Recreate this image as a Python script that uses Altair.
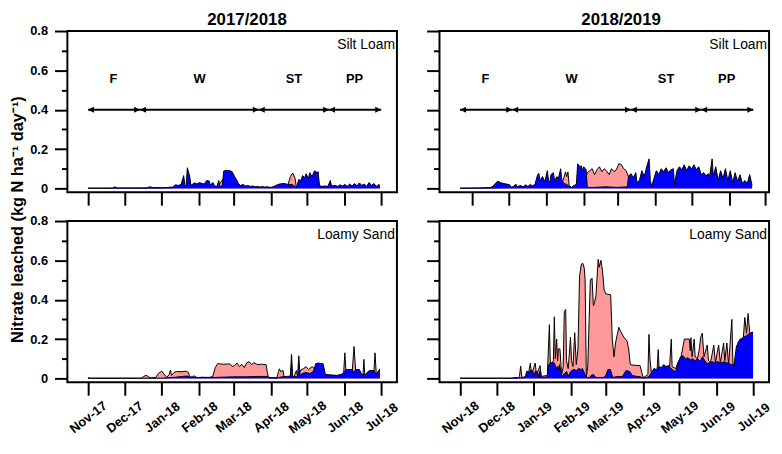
import altair as alt
import pandas as pd

DAY = 86400000


def ms(date):
    return int(pd.Timestamp(date, tz="UTC").value // 10**6)


# ---------------- data (days after 1 Nov, value in 0.001 kg N/ha/day) ----------------
SEASONS = ["2017/2018", "2018/2019"]
SEASON_START = {"2017/2018": "2017-11-01", "2018/2019": "2018-11-01"}
X_DOMAIN = {"2017/2018": ["2017-10-15", "2018-07-14"], "2018/2019": ["2018-10-15", "2019-07-14"]}
MONTH_TICKS = {
    "2017/2018": ["2017-11-01", "2017-12-01", "2018-01-01", "2018-02-01", "2018-03-01",
                  "2018-04-01", "2018-05-01", "2018-06-01", "2018-07-01"],
    "2018/2019": ["2018-11-01", "2018-12-01", "2019-01-01", "2019-02-01", "2019-03-01",
                  "2019-04-01", "2019-05-01", "2019-06-01", "2019-07-01"],
}
# the upper right panel of the original has its ticks drawn slightly to the right
TOP_RIGHT_TICKS = ["2018-11-11", "2018-12-11", "2019-01-11", "2019-02-11", "2019-03-11",
                   "2019-04-11", "2019-05-11", "2019-06-11", "2019-07-11"]
Y_TICKS = [0, 0.1, 0.2, 0.3, 0.4, 0.5, 0.6, 0.7, 0.8]

PHASE_NAMES = ["F", "W", "ST", "PP"]
PHASE_START = [0, 43, 141, 199]
PHASE_END = [43, 141, 199, 242]
PHASE_LABEL_DAY = [21, 92, 170, 220]
ARROW_LEVEL = 0.4
LABEL_LEVEL = 0.555

silt_1718_blue = [(0, 1), (20, 1), (22, 8), (24, 2), (48, 2), (51, 8), (54, 4), (60, 3), (70, 3), (72, 18), (75, 15),
                  (77, 22), (79, 65), (80, 15), (81, 10), (82, 105), (84, 60), (85, 12), (86, 20), (88, 28), (90, 22),
                  (92, 30), (94, 25), (96, 22), (98, 40), (100, 38), (101, 15), (103, 30), (104, 20), (106, 5),
                  (108, 40), (109, 5), (111, 20), (112, 88), (114, 92), (117, 90), (119, 85), (121, 60), (123, 40),
                  (124, 25), (126, 15), (128, 20), (130, 12), (132, 15), (134, 10), (136, 12), (138, 8), (140, 10),
                  (142, 6), (144, 10), (146, 6), (148, 9), (150, 5), (152, 5), (155, 15), (158, 22), (162, 25),
                  (165, 20), (168, 20), (170, 15), (172, 3), (174, 45), (176, 40), (177, 65), (179, 55), (180, 75),
                  (182, 50), (183, 80), (185, 60), (187, 90), (189, 80), (190, 85), (191, 15), (193, 10), (196, 12),
                  (198, 10), (200, 40), (201, 12), (204, 15), (206, 10), (208, 18), (210, 12), (212, 20), (214, 10),
                  (216, 22), (218, 12), (220, 25), (222, 12), (224, 28), (226, 15), (228, 22), (230, 10), (232, 30),
                  (234, 15), (236, 25), (238, 10), (240, 20), (241, 15)]
silt_1718_pink = [(0, 1), (60, 2), (72, 8), (80, 10), (84, 30), (86, 10), (92, 15), (100, 20), (106, 3), (112, 50),
                  (118, 60), (122, 30), (126, 8), (150, 4), (156, 10), (162, 18), (165, 18), (167, 60), (169, 78),
                  (171, 50), (172, 3), (174, 30), (180, 40), (190, 50), (191, 8), (200, 10), (241, 8)]

silt_1819_blue = [(0, 1), (15, 2), (25, 4), (27, 10), (29, 25), (31, 36), (34, 28), (38, 22), (41, 18), (42, 5),
                  (44, 10), (46, 22), (47, 8), (50, 15), (52, 8), (54, 18), (56, 10), (58, 20), (60, 12), (62, 25),
                  (64, 70), (65, 76), (66, 40), (68, 60), (70, 35), (72, 90), (73, 40), (74, 30), (75, 70), (77, 80),
                  (78, 40), (80, 60), (81, 45), (83, 100), (84, 40), (86, 25), (88, 20), (90, 10), (92, 5), (94, 15),
                  (96, 20), (97, 125), (99, 110), (100, 115), (101, 90), (102, 110), (104, 95), (105, 5), (110, 5),
                  (120, 8), (130, 5), (138, 8), (139, 60), (141, 75), (143, 55), (145, 80), (146, 30), (148, 40),
                  (150, 90), (152, 60), (154, 110), (156, 150), (157, 40), (158, 10), (160, 50), (162, 90), (164, 70),
                  (166, 100), (168, 85), (170, 105), (172, 80), (174, 95), (176, 100), (177, 20), (179, 90),
                  (181, 110), (183, 95), (185, 120), (187, 90), (189, 115), (191, 100), (193, 120), (195, 95),
                  (197, 110), (199, 70), (201, 80), (203, 65), (205, 75), (206, 60), (208, 150), (209, 60),
                  (211, 110), (213, 40), (215, 90), (217, 50), (219, 100), (221, 40), (223, 90), (225, 30), (227, 80),
                  (229, 35), (231, 70), (233, 25), (235, 40), (237, 25), (239, 70), (241, 15)]
silt_1819_pink = [(0, 1), (26, 2), (40, 5), (60, 8), (70, 20), (80, 30), (85, 40), (87, 84), (88, 60), (89, 84),
                  (90, 15), (92, 5), (96, 10), (104, 60), (105, 80), (107, 90), (109, 100), (111, 70), (113, 95),
                  (115, 110), (117, 85), (119, 100), (121, 88), (123, 70), (125, 100), (127, 85), (129, 95),
                  (131, 125), (133, 122), (135, 100), (137, 90), (139, 60), (141, 8), (241, 5)]

sand_1718_blue = [(0, 2), (2, 1), (60, 1), (66, 3), (72, 6), (78, 10), (82, 12), (84, 5), (90, 4), (100, 4), (104, 5),
                  (110, 6), (120, 8), (130, 8), (140, 10), (148, 10), (150, 2), (156, 2), (160, 8), (164, 10),
                  (167, 12), (168, 123), (169, 10), (172, 8), (173, 10), (174, 115), (175, 15), (177, 25), (180, 30),
                  (183, 25), (186, 35), (188, 75), (190, 78), (194, 75), (196, 20), (200, 18), (205, 15), (209, 20),
                  (211, 30), (213, 45), (218, 45), (219, 30), (221, 45), (224, 45), (226, 20), (229, 20), (232, 40),
                  (236, 40), (238, 20), (240, 40), (241, 40)]
sand_1718_pink = [(0, 3), (2, 1), (44, 1), (46, 10), (48, 16), (50, 8), (52, 2), (56, 5), (58, 25), (61, 37),
                  (63, 20), (65, 5), (67, 20), (68, 42), (69, 15), (71, 30), (73, 35), (77, 34), (81, 37), (83, 30),
                  (84, 5), (86, 10), (88, 12), (90, 4), (94, 6), (100, 5), (103, 10), (105, 55), (107, 75), (112, 72),
                  (117, 74), (119, 60), (121, 65), (123, 78), (125, 60), (127, 72), (129, 55), (131, 80), (133, 85),
                  (135, 70), (137, 80), (140, 70), (143, 72), (147, 70), (148, 30), (149, 5), (156, 3), (157, 30),
                  (158, 49), (159, 35), (161, 40), (162, 5), (166, 5), (168, 10), (170, 8), (172, 40), (173, 10),
                  (176, 45), (178, 50), (180, 60), (182, 45), (185, 60), (187, 50), (190, 30), (196, 15), (208, 15),
                  (211, 25), (212, 130), (213, 30), (218, 30), (219.6, 162), (221, 30), (226, 15), (227, 18),
                  (227.7, 97), (228.5, 15), (236, 30), (236.9, 130), (238, 18), (241, 49)]

sand_1819_blue = [(0, 1), (43, 1), (44, 4), (48, 5), (50, 3), (52, 2), (54, 10), (55, 37), (57, 30), (58, 40), (60, 38),
                  (61, 10), (62, 35), (64, 30), (65, 10), (66, 40), (67, 5), (70, 5), (72, 10), (73, 70), (75, 80),
                  (78, 78), (79, 50), (80, 60), (81, 45), (82, 70), (83, 40), (84, 10), (86, 25), (88, 35), (89, 10),
                  (92, 40), (94, 45), (96, 40), (98, 50), (100, 45), (101, 50), (103, 20), (105, 5), (107, 3),
                  (108, 15), (110, 20), (112, 5), (118, 5), (120, 10), (122, 45), (124, 45), (126, 5), (130, 10),
                  (134, 10), (137, 40), (140, 35), (142, 15), (146, 10), (149, 8), (151, 2), (154, 5), (156, 10),
                  (158, 30), (160, 50), (162, 45), (164, 60), (166, 55), (168, 70), (170, 60), (172, 65), (174, 50),
                  (176, 40), (178, 35), (180, 80), (182, 110), (184, 115), (186, 100), (188, 105), (190, 95),
                  (192, 100), (194, 90), (196, 100), (198, 85), (200, 110), (202, 90), (204, 75), (206, 80), (208, 85),
                  (210, 80), (212, 85), (214, 82), (216, 80), (218, 85), (220, 80), (222, 75), (224, 70), (226, 65),
                  (228, 160), (230, 190), (232, 200), (234, 210), (236, 215), (238, 225), (240, 230), (241.8, 235)]
sand_1819_pink = [(0, 1), (48, 1), (49, 10), (50, 62), (51, 5), (56, 10), (58, 78), (59, 20), (62, 78), (63, 20),
                  (66, 65), (67, 10), (72, 15), (73.7, 273), (74.5, 70), (77, 90), (77.8, 313), (78.6, 100),
                  (79.7, 200), (80.5, 90), (81.1, 150), (82.4, 150), (83.8, 20), (85.1, 60), (86, 340), (87.2, 350),
                  (87.8, 90), (89.2, 50), (90.5, 150), (91.1, 210), (92, 90), (93.2, 60), (94.6, 232), (95.9, 70),
                  (97.3, 150), (98.6, 520), (100, 580), (101.3, 585), (102.5, 560), (103.2, 500), (104.2, 10),
                  (105.4, 60), (106.5, 300), (107.5, 500), (108.9, 510), (110, 370), (110.8, 380), (112.1, 420),
                  (114, 605), (114.8, 565), (116.2, 600), (117.5, 550), (118.9, 450), (120.2, 430), (124.3, 425),
                  (125.6, 200), (127, 110), (128.3, 180), (131, 260), (132.4, 240), (135.1, 210), (137.8, 190),
                  (139.1, 150), (140.5, 70), (141.8, 68), (148.6, 65), (149.9, 30), (151.3, 3), (155, 20),
                  (155.9, 224), (156.7, 100), (158, 20), (162.5, 30), (163.5, 146), (164.3, 40), (172.9, 60),
                  (174.3, 200), (175, 60), (178, 50), (179.7, 80), (182.4, 110), (185.1, 200), (189.1, 200),
                  (190, 140), (190.5, 207), (191.5, 110), (193.2, 200), (194, 110), (195.9, 100), (197.5, 150),
                  (198.6, 210), (199.9, 230), (201.3, 110), (204, 170), (205, 90), (206.7, 80), (209.4, 170),
                  (210.7, 80), (213.4, 170), (214.8, 80), (217.5, 180), (218.5, 90), (220.2, 180), (221.6, 70),
                  (224.3, 300), (225.2, 70), (228, 80), (231, 200), (233.7, 200), (235, 310), (236.4, 230),
                  (237.7, 330), (239.1, 230), (241.8, 235)]

SERIES = {
    ("2017/2018", "Silt Loam"): (silt_1718_blue, silt_1718_pink),
    ("2018/2019", "Silt Loam"): (silt_1819_blue, silt_1819_pink),
    ("2017/2018", "Loamy Sand"): (sand_1718_blue, sand_1718_pink),
    ("2018/2019", "Loamy Sand"): (sand_1819_blue, sand_1819_pink),
}

PINK = "#FF9999"
BLUE = "#0000FF"
FONT = "Liberation Sans"
W, H = 333, 163

RIGHT_HEAD = "M0,0L-2,-1L-2,1Z"
LEFT_HEAD = "M0,0L2,-1L2,1Z"


def panel(season, soil, row, col):
    t0 = ms(SEASON_START[season])
    blue, pink = SERIES[(season, soil)]

    def frame(pts):
        return pd.DataFrame({"t": [t0 + d * DAY for d, _ in pts], "v": [v / 1000 for _, v in pts]})

    ticks = TOP_RIGHT_TICKS if (row == 0 and col == 1) else MONTH_TICKS[season]
    xaxis = alt.Axis(values=[ms(s) for s in ticks], labels=(row == 1), tickSize=13,
                     labelExpr="utcFormat(datum.value, '%b-%y')", labelAngle=322, labelAlign="center",
                     labelBaseline="middle", labelPadding=22, labelFontSize=13, labelOverlap=False,
                     labelFlush=False, title=None)
    yaxis = alt.Axis(values=Y_TICKS, labels=(col == 0),
                     tickSize={"condition": {"test": "round(datum.value*10) % 2 == 1", "value": 6}, "value": 13},
                     labelExpr="round(datum.value*10) % 2 == 1 ? '' : (datum.value == 0 ? '0' : format(datum.value, '.1f'))",
                     labelFontSize=13, labelPadding=7, labelOverlap=False, title=None)
    x = alt.X("t:T", scale=alt.Scale(type="utc", domain=[ms(d) for d in X_DOMAIN[season]]), axis=xaxis, title=None)
    y = alt.Y("v:Q", scale=alt.Scale(domain=[-0.02, 0.8], nice=False, zero=False), axis=yaxis, title=None)

    layers = []
    for pts, colr in ((pink, PINK), (blue, BLUE)):
        d = frame(pts)
        layers.append(alt.Chart(d).mark_area(color=colr, opacity=1).encode(x=x, y=y, y2=alt.datum(0)))
        layers.append(alt.Chart(d).mark_line(color="black", strokeWidth=1, strokeJoin="bevel").encode(x=x, y=y))

    if row == 0:
        ph = pd.DataFrame({
            "t": [t0 + d * DAY for d in PHASE_START],
            "t2": [t0 + d * DAY for d in PHASE_END],
            "v": [ARROW_LEVEL] * len(PHASE_NAMES),
        })
        layers.append(alt.Chart(ph).mark_rule(color="black", strokeWidth=2).encode(x=x, x2="t2:T", y=y))
        ends = pd.DataFrame({"t": [t0 + d * DAY for d in PHASE_END], "v": [ARROW_LEVEL] * len(PHASE_NAMES)})
        starts = pd.DataFrame({"t": [t0 + d * DAY for d in PHASE_START], "v": [ARROW_LEVEL] * len(PHASE_NAMES)})
        layers.append(alt.Chart(ends).mark_point(shape=RIGHT_HEAD, filled=True, size=36, color="black",
                                                  opacity=1, strokeWidth=0).encode(x=x, y=y))
        layers.append(alt.Chart(starts).mark_point(shape=LEFT_HEAD, filled=True, size=36, color="black",
                                                    opacity=1, strokeWidth=0).encode(x=x, y=y))
        lab = pd.DataFrame({"t": [t0 + d * DAY for d in PHASE_LABEL_DAY], "v": [LABEL_LEVEL] * len(PHASE_NAMES),
                            "name": PHASE_NAMES})
        layers.append(alt.Chart(lab).mark_text(font=FONT, fontSize=13, fontWeight="bold", color="black",
                                               baseline="middle").encode(x=x, y=y, text="name:N"))
        # season heading above the upper panel
        layers.append(alt.Chart(pd.DataFrame({"s": [season]})).mark_text(
            font=FONT, fontSize=17, fontWeight="bold", color="black", align="center", baseline="alphabetic").encode(
            text="s:N", x=alt.value(W / 2 + (15 if col == 0 else 17)), y=alt.value(-6)))

    layers.append(alt.Chart(pd.DataFrame({"s": [soil]})).mark_text(
        font=FONT, fontSize=14, color="black", align="right", baseline="alphabetic").encode(
        text="s:N", x=alt.value(W - 2), y=alt.value(18)))

    return alt.layer(*layers).properties(width=W, height=H)


chart = alt.concat(
    panel("2017/2018", "Silt Loam", 0, 0), panel("2018/2019", "Silt Loam", 0, 1),
    panel("2017/2018", "Loamy Sand", 1, 0), panel("2018/2019", "Loamy Sand", 1, 1),
    columns=2, spacing={"row": 7, "column": 23}, align="each",
).properties(
    padding={"left": 2, "top": 0, "right": 0, "bottom": 0},
    title=alt.TitleParams("Nitrate leached (kg N ha⁻¹ day⁻¹)", orient="left", anchor="middle", fontSize=16.5,
                          fontWeight="bold", font=FONT, offset=2, dx=4, color="black"),
).configure_view(stroke="black", strokeWidth=2).configure_axis(
    domain=False, grid=False, tickColor="black", tickWidth=2, labelColor="black", labelFont=FONT,
    labelFontWeight="bold")

chart.save("out.html", embed_options={"renderer": "svg", "actions": False})
